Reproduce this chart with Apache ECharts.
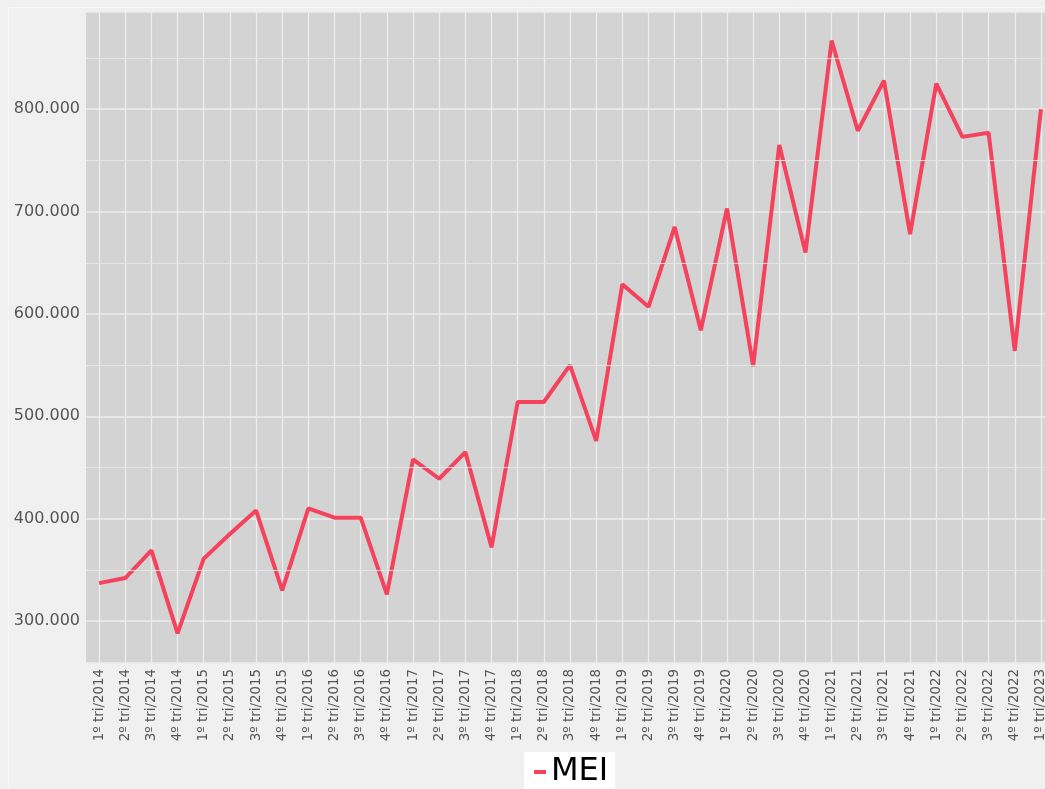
<!DOCTYPE html>
<html>
<head>
<meta charset="utf-8">
<script src="https://cdn.jsdelivr.net/npm/echarts@6/dist/echarts.min.js"></script>
<style>
  html, body { margin: 0; padding: 0; background: #eeeef0; overflow: hidden; }
  #chart { width: 1054px; height: 789px; }
</style>
</head>
<body>
<div id="chart"></div>
<script>
// quarters 1º tri/2014 .. 1º tri/2023
const years = ['2014', '2015', '2016', '2017', '2018', '2019', '2020', '2021', '2022', '2023'];
const quarters = ['1º', '2º', '3º', '4º'];
const categories = [];
years.forEach(y => quarters.forEach(q => categories.push(q + ' tri/' + y)));
categories.length = 37;

// MEI values
const mei = [
    337000, 342000, 369000, 288000,
    361000, 385000, 408000, 330000,
    410000, 401000, 401000, 326000,
    458000, 439000, 465000, 372000,
    514000, 514000, 550000, 476000,
    629000, 607000, 685000, 584000,
    703000, 549000, 765000, 660000,
    867000, 779000, 828000, 678000,
    825000, 773000, 777000, 564000,
    800000
];

// minor grid levels between the labelled ticks
const minorLevels = [350000, 450000, 550000, 650000, 750000, 850000];

function fmtThousands(v) {
    return String(Math.round(v)).replace(/\B(?=(\d{3})+(?!\d))/g, '.');
}

// the plot runs past the right edge of the window, so the canvas is a bit wider
const chart = echarts.init(document.getElementById('chart'));

const option = {
    backgroundColor: '#f0f0f0',
    animation: false,
    textStyle: { fontFamily: 'DejaVu Sans' },
    graphic: [{
        type: 'rect',
        shape: { x: 8.5, y: 7.5, width: 1100, height: 900 },
        style: { fill: 'none', stroke: '#f7f7f7', lineWidth: 1 },
        silent: true
    }],
    grid: {
        left: 86,
        right: 0,
        top: 12,
        bottom: 126,
        show: true,
        backgroundColor: '#d3d3d3',
        borderWidth: 0
    },
    legend: {
        bottom: -5,
        left: 524,
        backgroundColor: '#ffffff',
        padding: [4, 7, 6, 10],
        icon: 'rect',
        itemWidth: 12,
        itemHeight: 4,
        itemGap: 4,
        textStyle: { fontSize: 32, color: '#000', fontFamily: 'DejaVu Sans' },
        data: ['MEI']
    },
    xAxis: {
        type: 'category',
        data: categories,
        boundaryGap: true,
        axisLine: { show: false },
        axisTick: { show: false },
        axisLabel: {
            rotate: 90,
            interval: 0,
            color: '#555',
            fontSize: 13.4,
            margin: 6
        },
        splitLine: {
            show: true,
            alignWithLabel: true,
            interval: 0,
            lineStyle: { color: '#ededed', width: 1.3 }
        }
    },
    yAxis: {
        type: 'value',
        min: 259000,
        max: 895000,
        axisLine: { show: false },
        axisTick: { show: false },
        axisLabel: {
            color: '#555',
            fontSize: 16,
            margin: 6,
            showMinLabel: false,
            showMaxLabel: false,
            formatter: fmtThousands
        },
        splitLine: { lineStyle: { color: '#ededed', width: 1.5 } }
    },
    series: [{
        name: 'grid-minor',
        type: 'line',
        data: [],
        z: 1,
        silent: true,
        markLine: {
            silent: true,
            symbol: 'none',
            label: { show: false },
            lineStyle: { type: 'solid', color: '#e4e4e4', width: 1 },
            data: minorLevels.map(v => ({ yAxis: v }))
        }
    }, {
        name: 'MEI',
        type: 'line',
        data: mei,
        z: 3,
        showSymbol: false,
        color: '#f5425d',
        lineStyle: { width: 4, color: '#f5425d' }
    }]
};

chart.setOption(option);
</script>
</body>
</html>
